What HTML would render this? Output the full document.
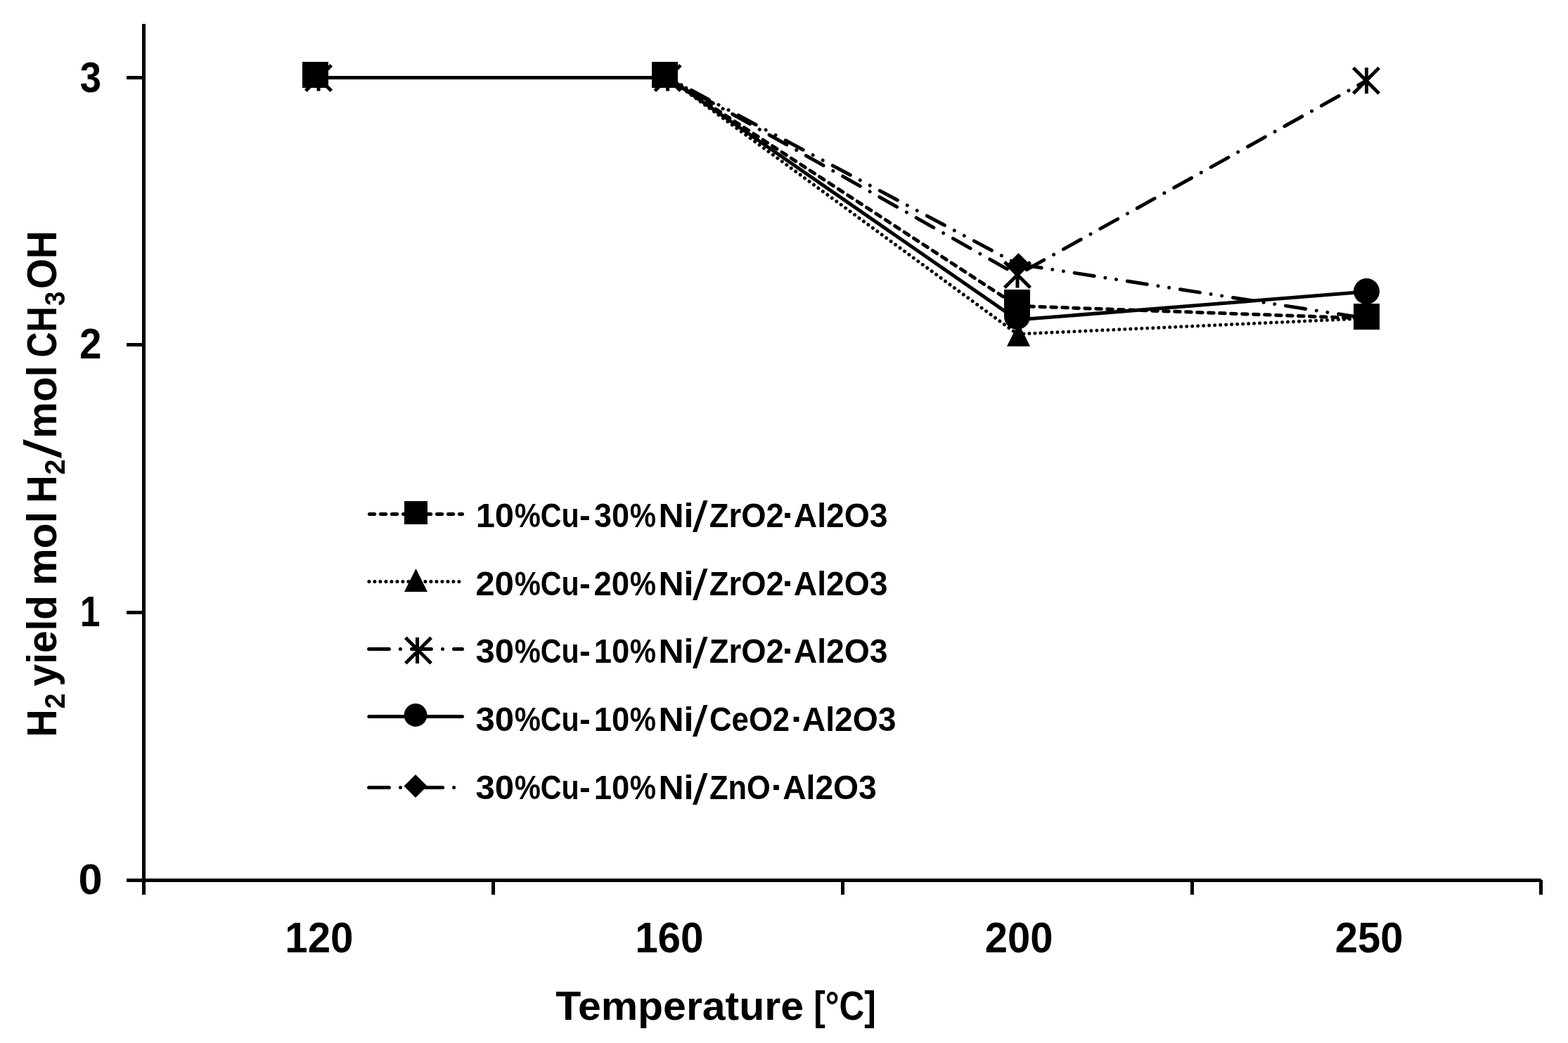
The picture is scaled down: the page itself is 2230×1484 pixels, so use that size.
<!DOCTYPE html>
<html lang="en"><head><meta charset="utf-8">
<title>H2 yield vs temperature</title>
<style>
html,body{margin:0;padding:0;background:#fff;}
body{width:2230px;height:1484px;overflow:hidden;}
svg{display:block;}
text{font-family:"Liberation Sans", sans-serif;font-weight:700;fill:#000;}
.ln{fill:none;stroke:#000;stroke-width:5;stroke-linejoin:round;stroke-linecap:round;}
</style></head><body>
<svg width="2230" height="1484" viewBox="0 0 2230 1484">
<rect width="2230" height="1484" fill="#fff"/>
<g id="axes" fill="#000" shape-rendering="crispEdges">
<rect x="202" y="34" width="5" height="1239"/>
<rect x="180" y="1250" width="2012" height="5"/>
<rect x="180" y="108" width="24" height="5"/>
<rect x="180" y="488" width="24" height="5"/>
<rect x="180" y="869" width="24" height="5"/>
<rect x="180" y="1250" width="24" height="5"/>
<rect x="202" y="1252" width="5" height="21"/>
<rect x="699" y="1252" width="5" height="21"/>
<rect x="1196" y="1252" width="5" height="21"/>
<rect x="1693" y="1252" width="5" height="21"/>
<rect x="2189" y="1252" width="5" height="21"/>
</g>
<g id="lines">
<polyline class="ln" points="453.0,110.5 949.7,110.5 1446.9,435.3 1943.3,453.0" stroke-dasharray="7.6 8.4" stroke-dashoffset="-2.5"/>
<polyline class="ln" points="453.0,110.5 949.7,110.5 1446.9,475.3 1943.3,453.0" stroke-dasharray="0.01 7.99" stroke-dashoffset="-2.4" stroke-width="4.3"/>
<polyline class="ln" points="453.0,110.5 949.7,110.5 1446.9,391.0 1943.3,114.8" stroke-dasharray="28.4 15.8 0.01 15.79" stroke-dashoffset="-2.5"/>
<polyline class="ln" points="453.0,110.5 949.7,110.5 1446.9,455.1 1943.3,415.0"/>
<polyline class="ln" points="453.0,110.5 949.7,110.5 1446.9,375.7 1943.3,453.0" stroke-dasharray="28.4 15.8 0.01 15.79 0.01 15.99" stroke-dashoffset="-2.5"/>
</g>
<g id="markers" fill="#000">
<path d="M434.7 92.7L471.3 129.3M471.3 92.7L434.7 129.3M453.0 92.5L453.0 129.5" fill="none" stroke="#000" stroke-width="5"/>
<path d="M931.3000000000001 92.7L967.9 129.3M967.9 92.7L931.3000000000001 129.3M949.6 92.5L949.6 129.5" fill="none" stroke="#000" stroke-width="5"/>
<rect x="430" y="88" width="37" height="37"/>
<rect x="927" y="88" width="37" height="37"/>
<path d="M1428.7 372.7L1465.3 409.3M1465.3 372.7L1428.7 409.3M1447.0 372.5L1447.0 409.5" fill="none" stroke="#000" stroke-width="5"/>
<path d="M1448.5 360.0L1465.0 376.5L1448.5 393.0L1432.0 376.5Z"/>
<rect x="1428" y="412" width="37" height="37"/>
<circle cx="1446.5" cy="450.3" r="18.5"/>
<path d="M1448.5 459.5L1465.0 492.8L1432.0 492.8Z"/>
<path d="M1924.7 96.5L1961.3 133.1M1961.3 96.5L1924.7 133.1M1943.5 96.3L1943.5 133.3" fill="none" stroke="#000" stroke-width="5"/>
<circle cx="1943.5" cy="414.5" r="18.5"/>
<rect x="1925" y="432" width="37" height="37"/>
</g>
<g id="legend">
<path class="ln" d="M525.4 731.6H657.5" stroke-dasharray="7.3 8.7"/>
<path class="ln" d="M524.9 827.4H657.5" stroke-dasharray="0.01 7.99" stroke-width="4.5"/>
<path class="ln" d="M524.6 923.5H657.5" stroke-dasharray="28.8 15.95 0.01 16.14 27.9 16.15 0.01 15.94 28 99"/>
<path class="ln" d="M524.8 1019.4H657.5"/>
<path class="ln" d="M524.6 1120.5H657.5" stroke-dasharray="28.8 16.05 0.01 16 0.01 15.04 29.1 15.95 0.01 99"/>
<g fill="#000">
<rect x="575" y="713" width="33" height="33"/>
<path d="M591.5 809.0L608.0 842.0L575.0 842.0Z"/>
<path d="M576.8 907.3L613.2 943.7M613.2 907.3L576.8 943.7M593.5 907.0L593.5 944.0" fill="none" stroke="#000" stroke-width="5"/>
<circle cx="591.0" cy="1017.5" r="16.4"/>
<path d="M591.0 1102.0L607.5 1118.5L591.0 1135.0L574.5 1118.5Z"/>
</g>
<text font-size="48.0"><tspan x="676.65" y="749.80" textLength="54.32" lengthAdjust="spacingAndGlyphs">10</tspan><tspan x="731.86" y="749.80" textLength="37.16" lengthAdjust="spacingAndGlyphs">%</tspan><tspan x="768.85" y="749.80" textLength="54.84" lengthAdjust="spacingAndGlyphs">Cu</tspan><tspan x="824.11" y="749.80" textLength="15.69" lengthAdjust="spacingAndGlyphs">-</tspan><tspan x="845.09" y="749.80" textLength="50.02" lengthAdjust="spacingAndGlyphs">30</tspan><tspan x="895.75" y="749.80" textLength="37.27" lengthAdjust="spacingAndGlyphs">%</tspan><tspan x="936.43" y="749.80" textLength="49.97" lengthAdjust="spacingAndGlyphs">Ni</tspan><tspan x="985.10" y="756.20" textLength="21.53" lengthAdjust="spacingAndGlyphs" font-size="60.7" font-weight="400">/</tspan><tspan x="1008.84" y="749.80" textLength="105.85" lengthAdjust="spacingAndGlyphs">ZrO2</tspan><tspan x="1112.15" y="749.80" textLength="18.54" lengthAdjust="spacingAndGlyphs">·</tspan><tspan x="1128.84" y="749.80" textLength="133.79" lengthAdjust="spacingAndGlyphs">Al2O3</tspan></text>
<text font-size="48.0"><tspan x="676.18" y="847.00" textLength="54.81" lengthAdjust="spacingAndGlyphs">20</tspan><tspan x="731.86" y="847.00" textLength="37.16" lengthAdjust="spacingAndGlyphs">%</tspan><tspan x="768.85" y="847.00" textLength="54.84" lengthAdjust="spacingAndGlyphs">Cu</tspan><tspan x="824.11" y="847.00" textLength="15.69" lengthAdjust="spacingAndGlyphs">-</tspan><tspan x="844.51" y="847.00" textLength="50.62" lengthAdjust="spacingAndGlyphs">20</tspan><tspan x="895.75" y="847.00" textLength="37.27" lengthAdjust="spacingAndGlyphs">%</tspan><tspan x="936.43" y="847.00" textLength="49.97" lengthAdjust="spacingAndGlyphs">Ni</tspan><tspan x="985.10" y="853.40" textLength="21.53" lengthAdjust="spacingAndGlyphs" font-size="60.7" font-weight="400">/</tspan><tspan x="1008.84" y="847.00" textLength="105.85" lengthAdjust="spacingAndGlyphs">ZrO2</tspan><tspan x="1112.15" y="847.00" textLength="18.54" lengthAdjust="spacingAndGlyphs">·</tspan><tspan x="1128.84" y="847.00" textLength="133.79" lengthAdjust="spacingAndGlyphs">Al2O3</tspan></text>
<text font-size="48.0"><tspan x="676.40" y="943.40" textLength="54.58" lengthAdjust="spacingAndGlyphs">30</tspan><tspan x="731.86" y="943.40" textLength="37.16" lengthAdjust="spacingAndGlyphs">%</tspan><tspan x="768.85" y="943.40" textLength="54.84" lengthAdjust="spacingAndGlyphs">Cu</tspan><tspan x="824.11" y="943.40" textLength="15.69" lengthAdjust="spacingAndGlyphs">-</tspan><tspan x="844.67" y="943.40" textLength="50.46" lengthAdjust="spacingAndGlyphs">10</tspan><tspan x="895.75" y="943.40" textLength="37.27" lengthAdjust="spacingAndGlyphs">%</tspan><tspan x="936.43" y="943.40" textLength="49.97" lengthAdjust="spacingAndGlyphs">Ni</tspan><tspan x="985.10" y="949.80" textLength="21.53" lengthAdjust="spacingAndGlyphs" font-size="60.7" font-weight="400">/</tspan><tspan x="1008.84" y="943.40" textLength="105.85" lengthAdjust="spacingAndGlyphs">ZrO2</tspan><tspan x="1112.15" y="943.40" textLength="18.54" lengthAdjust="spacingAndGlyphs">·</tspan><tspan x="1128.84" y="943.40" textLength="133.79" lengthAdjust="spacingAndGlyphs">Al2O3</tspan></text>
<text font-size="48.0"><tspan x="676.40" y="1040.20" textLength="54.58" lengthAdjust="spacingAndGlyphs">30</tspan><tspan x="731.86" y="1040.20" textLength="37.16" lengthAdjust="spacingAndGlyphs">%</tspan><tspan x="768.85" y="1040.20" textLength="54.84" lengthAdjust="spacingAndGlyphs">Cu</tspan><tspan x="824.11" y="1040.20" textLength="15.69" lengthAdjust="spacingAndGlyphs">-</tspan><tspan x="844.67" y="1040.20" textLength="50.46" lengthAdjust="spacingAndGlyphs">10</tspan><tspan x="895.75" y="1040.20" textLength="37.27" lengthAdjust="spacingAndGlyphs">%</tspan><tspan x="936.43" y="1040.20" textLength="49.97" lengthAdjust="spacingAndGlyphs">Ni</tspan><tspan x="985.10" y="1046.60" textLength="21.53" lengthAdjust="spacingAndGlyphs" font-size="60.7" font-weight="400">/</tspan><tspan x="1009.05" y="1040.20" textLength="114.10" lengthAdjust="spacingAndGlyphs">CeO2</tspan><tspan x="1124.65" y="1040.20" textLength="18.54" lengthAdjust="spacingAndGlyphs">·</tspan><tspan x="1140.74" y="1040.20" textLength="133.79" lengthAdjust="spacingAndGlyphs">Al2O3</tspan></text>
<text font-size="48.0"><tspan x="676.40" y="1137.20" textLength="54.58" lengthAdjust="spacingAndGlyphs">30</tspan><tspan x="731.86" y="1137.20" textLength="37.16" lengthAdjust="spacingAndGlyphs">%</tspan><tspan x="768.85" y="1137.20" textLength="54.84" lengthAdjust="spacingAndGlyphs">Cu</tspan><tspan x="824.11" y="1137.20" textLength="15.69" lengthAdjust="spacingAndGlyphs">-</tspan><tspan x="844.67" y="1137.20" textLength="50.46" lengthAdjust="spacingAndGlyphs">10</tspan><tspan x="895.75" y="1137.20" textLength="37.27" lengthAdjust="spacingAndGlyphs">%</tspan><tspan x="936.43" y="1137.20" textLength="49.97" lengthAdjust="spacingAndGlyphs">Ni</tspan><tspan x="985.10" y="1143.60" textLength="21.53" lengthAdjust="spacingAndGlyphs" font-size="60.7" font-weight="400">/</tspan><tspan x="1008.90" y="1137.20" textLength="86.93" lengthAdjust="spacingAndGlyphs">ZnO</tspan><tspan x="1096.35" y="1137.20" textLength="18.54" lengthAdjust="spacingAndGlyphs">·</tspan><tspan x="1113.14" y="1137.20" textLength="133.69" lengthAdjust="spacingAndGlyphs">Al2O3</tspan></text>
</g>
<g id="ticklabels">
<text font-size="60.6" x="113.67" y="130.60" textLength="30.30" lengthAdjust="spacingAndGlyphs">3</text>
<text font-size="60.6" x="112.92" y="510.30" textLength="31.40" lengthAdjust="spacingAndGlyphs">2</text>
<text font-size="60.6" x="113.77" y="891.30" textLength="28.71" lengthAdjust="spacingAndGlyphs">1</text>
<text font-size="60.6" x="111.55" y="1272.40" textLength="34.07" lengthAdjust="spacingAndGlyphs">0</text>
<text font-size="60.6" x="405.36" y="1355.40" textLength="97.13" lengthAdjust="spacingAndGlyphs">120</text>
<text font-size="60.6" x="903.15" y="1355.40" textLength="97.45" lengthAdjust="spacingAndGlyphs">160</text>
<text font-size="60.6" x="1400.87" y="1355.40" textLength="96.71" lengthAdjust="spacingAndGlyphs">200</text>
<text font-size="60.6" x="1898.77" y="1355.40" textLength="96.71" lengthAdjust="spacingAndGlyphs">250</text>
</g>
<g id="titles">
<text font-size="58.1"><tspan x="790.31" y="1450.90" textLength="352.67" lengthAdjust="spacingAndGlyphs">Temperature</tspan> <tspan x="1157.17" y="1450.90" textLength="88.69" lengthAdjust="spacingAndGlyphs">[°C]</tspan></text>
<text font-size="59.6" transform="translate(80 1045) rotate(-90)"><tspan x="-3.55" y="0.00" textLength="39.09" lengthAdjust="spacingAndGlyphs">H</tspan><tspan x="36.41" y="12.00" textLength="22.13" lengthAdjust="spacingAndGlyphs" font-size="40.2">2</tspan> <tspan x="68.57" y="0.00" textLength="129.40" lengthAdjust="spacingAndGlyphs">yield</tspan> <tspan x="212.06" y="0.00" textLength="105.10" lengthAdjust="spacingAndGlyphs">mol</tspan> <tspan x="329.21" y="0.00" textLength="39.46" lengthAdjust="spacingAndGlyphs">H</tspan><tspan x="369.51" y="12.00" textLength="22.13" lengthAdjust="spacingAndGlyphs" font-size="40.2">2</tspan><tspan x="393.10" y="7.40" textLength="27.13" lengthAdjust="spacingAndGlyphs" font-size="73.7" font-weight="400">/</tspan><tspan x="421.31" y="0.00" textLength="103.70" lengthAdjust="spacingAndGlyphs">mol</tspan> <tspan x="536.62" y="0.00" textLength="72.31" lengthAdjust="spacingAndGlyphs">CH</tspan><tspan x="609.98" y="12.00" textLength="20.35" lengthAdjust="spacingAndGlyphs" font-size="40.2">3</tspan><tspan x="633.89" y="0.00" textLength="82.84" lengthAdjust="spacingAndGlyphs">OH</tspan></text>
</g>
</svg></body></html>
